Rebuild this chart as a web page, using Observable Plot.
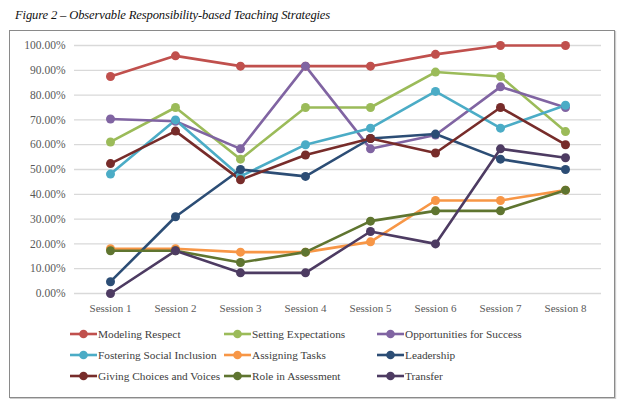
<!DOCTYPE html>
<html>
<head>
<meta charset="utf-8">
<script src="https://cdn.jsdelivr.net/npm/d3@7"></script>
<script src="https://cdn.jsdelivr.net/npm/@observablehq/plot@0.6"></script>
<style>
  body { margin:0; background:#fff; width:627px; height:399px; position:relative; overflow:hidden; font-family:"Liberation Serif",serif; }
  #title { position:absolute; left:15px; top:8px; font-style:italic; font-size:12.6px; letter-spacing:-0.15px; color:#111; white-space:nowrap; }
  #box { position:absolute; left:9px; top:30px; width:606px; height:368px; border:1px solid #8a8a8a; box-sizing:border-box; box-shadow:1px 1px 1px #ccc; }
  #plot { position:absolute; left:0; top:30px; }
  #legend { position:absolute; left:0; top:0; }
  .lg { position:absolute; font-size:11.3px; color:#404040; white-space:nowrap; display:flex; align-items:center; }
  .lg svg { margin-right:1px; }
  #plot svg text { font-family:"Liberation Serif",serif; }
</style>
</head>
<body>
<div id="title">Figure 2 – Observable Responsibility-based Teaching Strategies</div>
<div id="box"></div>
<div id="plot"></div>
<div id="legend"></div>
<script>
const sessions = ["Session 1","Session 2","Session 3","Session 4","Session 5","Session 6","Session 7","Session 8"];
const seriesNames = ["Modeling Respect","Setting Expectations","Opportunities for Success","Fostering Social Inclusion","Assigning Tasks","Leadership","Giving Choices and Voices","Role in Assessment","Transfer"];
const seriesColors = ["#C0504D","#9BBB59","#8064A2","#4BACC6","#F79646","#2C4D75","#772C2A","#5F7530","#4D3B62"];
const modelingRespect        = [0.875, 0.9583, 0.9167, 0.9167, 0.9167, 0.9643, 1.0, 1.0];
const settingExpectations    = [0.6111, 0.75, 0.5417, 0.75, 0.7500, 0.8929, 0.875, 0.6528];
const opportunitiesSuccess   = [0.7037, 0.6944, 0.5833, 0.9167, 0.5833, 0.6389, 0.8333, 0.75];
const fosteringInclusion     = [0.4815, 0.7000, 0.4722, 0.6000, 0.6667, 0.8148, 0.6667, 0.7593];
const assigningTasks         = [0.1806, 0.1806, 0.1667, 0.1667, 0.2083, 0.375, 0.375, 0.4167];
const leadership             = [0.0476, 0.3095, 0.5, 0.4722, 0.625, 0.6429, 0.5417, 0.5];
const givingChoices          = [0.5238, 0.6548, 0.4583, 0.5583, 0.625, 0.5667, 0.75, 0.6];
const roleAssessment         = [0.1722, 0.1722, 0.125, 0.1667, 0.2917, 0.3333, 0.3333, 0.4167];
const transfer               = [0.0, 0.1722, 0.0833, 0.0833, 0.25, 0.2, 0.5833, 0.5476];
const yTicks = [0,0.1,0.2,0.3,0.4,0.5,0.6,0.7,0.8,0.9,1.0];

const allValues = [modelingRespect, settingExpectations, opportunitiesSuccess, fosteringInclusion, assigningTasks, leadership, givingChoices, roleAssessment, transfer];
const data = [];
seriesNames.forEach((name, i) => {
  sessions.forEach((s, j) => data.push({series: name, session: s, value: allValues[i][j]}));
});

const chart = Plot.plot({
  width: 627,
  height: 290,
  marginTop: 15,
  marginBottom: 27,
  marginLeft: 74,
  marginRight: 26,
  style: {fontFamily: "'Liberation Serif',serif", fontSize: "11px", color: "#595959", background: "transparent"},
  x: {type: "point", domain: sessions, padding: 0.5, label: null},
  y: {domain: [0, 1], label: null},
  color: {domain: seriesNames, range: seriesColors},
  marks: [
    Plot.ruleY(yTicks, {stroke: "#d9d9d9", strokeWidth: 1.3}),
    Plot.axisY(yTicks, {tickSize: 0, tickPadding: 9, tickFormat: d => (d*100).toFixed(2) + "%", fill: "#595959", fontSize: 11.5, label: null, style: {letterSpacing: "0.6px"}}),
    Plot.axisX(sessions, {tickSize: 0, tickPadding: 11, fill: "#595959", fontSize: 11, label: null}),
    Plot.line(data, {x: "session", y: "value", z: "series", stroke: "series", strokeWidth: 2.6}),
    Plot.dot(data, {x: "session", y: "value", fill: "series", r: 4.5})
  ]
});
document.getElementById("plot").appendChild(chart);

// legend
const legend = document.getElementById("legend");
const colX = [70, 224, 377];
const rowY = [334, 355, 376];
seriesNames.forEach((name, i) => {
  const div = document.createElement("div");
  div.className = "lg";
  div.style.left = colX[i % 3] + "px";
  div.style.top = (rowY[Math.floor(i / 3)] - 8) + "px";
  div.innerHTML = `<svg width="27" height="16"><line x1="0" y1="8" x2="27" y2="8" stroke="${seriesColors[i]}" stroke-width="2.6"/><circle cx="13.5" cy="8" r="4.3" fill="${seriesColors[i]}"/></svg><span>${name}</span>`;
  legend.appendChild(div);
});
</script>
</body>
</html>
